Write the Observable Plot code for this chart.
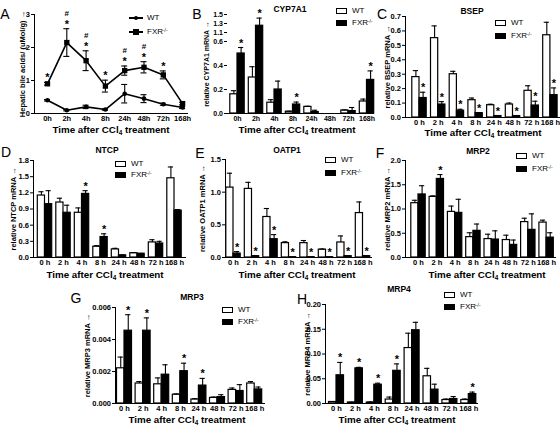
<!DOCTYPE html>
<html><head><meta charset="utf-8">
<script src="https://cdn.jsdelivr.net/npm/d3@7"></script>
<script src="https://cdn.jsdelivr.net/npm/@observablehq/plot@0.6"></script>
<style>
body{margin:0;background:#fff;}
#fig{position:relative;width:560px;height:426px;overflow:hidden;font-family:"Liberation Sans",Arial,sans-serif;color:#000;}
#fig svg{position:absolute;left:0;top:0;}
.t{position:absolute;white-space:nowrap;line-height:1;transform:translate(-50%,-50%);}
.l{position:absolute;white-space:nowrap;line-height:1;transform:translate(0,-50%);font-size:8px;}
.sw{position:absolute;box-sizing:border-box;border:1.3px solid #000;}
sub{font-size:65%;vertical-align:-0.25em;line-height:0;}
sup{font-size:60%;vertical-align:0.5em;line-height:0;}
</style></head><body><div id="fig"></div><script>
// ---------- data ----------
const timesA = ["0h","2h","4h","8h","24h","48h","72h","168h"];
const timesC = ["0 h","2 h","4 h","8 h","24 h","48 h","72 h","168 h"];

// A: hepatic bile acids
const bileWT     = [0.40,0.10,0.20,0.12,0.60,0.45,0.28,0.18];
const bileWTErr  = [0.02,0.02,0.05,0.02,0.28,0.12,0.03,0.03];
const bileFXR    = [0.90,2.15,1.60,0.83,1.30,1.40,1.17,0.30];
const bileFXRErr = [0.04,0.42,0.30,0.18,0.14,0.17,0.12,0.04];
const bileStar   = ["*","*","*","*","*","*","*",""];
const bileHash   = ["","#","#","","#","#","",""];

// B: CYP7A1
const cypWT     = [0.16,0.30,0.09,0.015,0.055,0,0.025,0.10];
const cypWTErr  = [0.03,0.09,0.025,0.004,0.005,0,0.005,0.02];
const cypFXR    = [0.50,1.25,0.20,0.075,0.012,0,0.02,0.28];
const cypFXRErr = [0.05,0.17,0.07,0.02,0.015,0,0.03,0.075];
const cypSig    = ["*","*","","*","","","","*"];

// C: BSEP
const bsepWT     = [0.28,0.55,0.30,0.12,0.085,0.09,0.185,0.57];
const bsepWTErr  = [0.045,0.085,0.02,0.015,0.007,0.01,0.035,0.09];
const bsepFXR    = [0.135,0.09,0.047,0.03,0.01,0.01,0.083,0.155];
const bsepFXRErr = [0.04,0.02,0.01,0.004,0.002,0.002,0.03,0.05];
const bsepSig    = ["*","*","*","*","*","*","*","*"];

// D: NTCP
const ntcpWT     = [1.15,1.02,0.83,0.20,0.15,0.08,0.28,1.47];
const ntcpWTErr  = [0.07,0.08,0.09,0.02,0.02,0.01,0.05,0.21];
const ntcpFXR    = [0.99,0.83,1.18,0.38,0.04,0.07,0.26,0.87];
const ntcpFXRErr = [0.25,0.14,0.06,0.06,0.005,0.005,0.04,0.02];
const ntcpSig    = ["","","*","*","","","",""];

// E: OATP1
const oatpWT     = [1.07,1.05,0.62,0.22,0.22,0.12,0.23,0.68];
const oatpWTErr  = [0.22,0.10,0.13,0.02,0.04,0.01,0.10,0.17];
const oatpFXR    = [0.06,0.02,0.28,0.005,0.005,0.005,0.02,0.02];
const oatpFXRErr = [0.03,0.01,0.07,0,0,0,0.005,0.01];
const oatpSig    = ["*","*","*","*","*","*","*","*"];

// F: MRP2
const mrp2WT     = [1.12,1.25,0.94,0.42,0.38,0.36,0.73,0.72];
const mrp2WTErr  = [0.06,0.02,0.12,0.09,0.10,0.10,0.08,0.05];
const mrp2FXR    = [1.30,1.62,0.92,0.55,0.37,0.26,0.57,0.41];
const mrp2FXRErr = [0.18,0.09,0.28,0.14,0.18,0.10,0.33,0.10];
const mrp2Sig    = ["","*","","","","","",""];

// G: MRP3
const mrp3WT     = [0.0022,0.00125,0.0012,0.00055,0.00025,0.00035,0.00085,0.00125];
const mrp3WTErr  = [0.0007,0.00012,0.0004,0.00005,0.00005,0.00005,0.00012,0.00012];
const mrp3FXR    = [0.00455,0.00455,0.0018,0.00202,0.00112,0.0004,0.00078,0.00088];
const mrp3FXRErr = [0.001,0.0008,0.00062,0.0005,0.00045,0.00015,0.0004,0.00015];
const mrp3Sig    = ["*","*","","*","*","","",""];

// H: MRP4
const mrp4WT     = [0.003,0.002,0.002,0.008,0.112,0.055,0.007,0.007];
const mrp4WTErr  = [0.001,0.0005,0.001,0.005,0.030,0.016,0.002,0.002];
const mrp4FXR    = [0.057,0.071,0.038,0.066,0.148,0.028,0.009,0.019];
const mrp4FXRErr = [0.026,0.002,0.003,0.014,0.016,0.011,0.005,0.004];
const mrp4Sig    = ["*","*","*","*","","","","*"];

// ---------- layout ----------
const W = 560, H = 426;
const FONT = "'Liberation Sans', Arial, sans-serif";
const fig = document.getElementById("fig");
const baseStyle = {background: "transparent", fontFamily: FONT, fontSize: "7.5px", fontWeight: "bold", color: "#000", overflow: "visible"};

function addSvg(svg){ fig.appendChild(svg); }

function barPanel(c) {
  const rows = c.times.map((t,i)=>({t, wt:c.wt[i], we:c.wtErr[i], fx:c.fxr[i], fe:c.fxrErr[i], sig:c.sig[i]}));
  const s = c.s, bw = c.bw, cap = 2.6;
  const yOpts = {type:"linear", domain:c.yDomain, ticks:c.yTicks, tickFormat:c.yFmt, line: !c.segs, tickSize:3, tickPadding:1.5,
                 label:c.yLabel, labelAnchor:"center", labelOffset:c.lo};
  if (c.yRange) yOpts.range = c.yRange;
  const marks = [
    Plot.barY(rows, {x:"t", y:"wt", fill:"white", stroke:"black", strokeWidth:1.2, insetLeft:s/2-bw, insetRight:s/2}),
    Plot.barY(rows, {x:"t", y:"fx", fill:"black", stroke:"black", strokeWidth:1.2, insetLeft:s/2, insetRight:s/2-bw}),
    Plot.ruleX(rows.filter(d=>d.we>0), {x:"t", y1:"wt", y2:d=>d.wt+d.we, dx:-bw/2, strokeWidth:1.1}),
    Plot.tickY(rows.filter(d=>d.we>0), {x:"t", y:d=>d.wt+d.we, insetLeft:s/2-bw/2-cap, insetRight:s/2+bw/2-cap, strokeWidth:1.1}),
    Plot.ruleX(rows.filter(d=>d.fe>0), {x:"t", y1:"fx", y2:d=>d.fx+d.fe, dx:bw/2, strokeWidth:1.1}),
    Plot.tickY(rows.filter(d=>d.fe>0), {x:"t", y:d=>d.fx+d.fe, insetLeft:s/2+bw/2-cap, insetRight:s/2-bw/2-cap, strokeWidth:1.1}),
    Plot.text(rows.filter(d=>d.sig), {x:"t", y:d=>d.fx+d.fe, text:"sig", dx:bw/2, dy:-1, lineAnchor:"bottom", fontSize:11}),
    Plot.ruleY([0], {strokeWidth:1.1})
  ];
  if (c.segs) marks.push(Plot.ruleX(c.segs, {y1:"a", y2:"b", dx:(c.L-c.R)/2, strokeWidth:1.1}));
  addSvg(Plot.plot({
    width:W, height:H,
    marginLeft:c.L, marginRight:W-c.R, marginTop:c.T, marginBottom:H-c.B,
    style: c.fontSize ? {...baseStyle, fontSize:c.fontSize} : baseStyle,
    x:{type:"band", domain:c.times, range:[c.c0-s/2, c.c0+7.5*s], padding:0, round:false, tickSize:0, tickPadding:2.5, label:null},
    y: yOpts,
    marks
  }));
}

// ---------- Panel A ----------
(function(){
  const L=34, R=188, T=14, B=113, c0=47, s=19.3;
  const wt = timesA.map((t,i)=>({t, v:bileWT[i], e:bileWTErr[i]}));
  const fx = timesA.map((t,i)=>({t, v:bileFXR[i], e:bileFXRErr[i], st:bileStar[i], h:bileHash[i]}));
  const cap = 3;
  const err = (data) => [
    Plot.ruleX(data, {x:"t", y1:d=>d.v-d.e, y2:d=>d.v+d.e, strokeWidth:1.1}),
    Plot.tickY(data, {x:"t", y:d=>d.v+d.e, insetLeft:s/2-cap, insetRight:s/2-cap, strokeWidth:1.1}),
    Plot.tickY(data, {x:"t", y:d=>d.v-d.e, insetLeft:s/2-cap, insetRight:s/2-cap, strokeWidth:1.1})
  ];
  addSvg(Plot.plot({
    width:W, height:H,
    marginLeft:L, marginRight:W-R, marginTop:T, marginBottom:H-B,
    style: baseStyle,
    x:{type:"band", domain:timesA, range:[c0-s/2, c0+7.5*s], padding:0, round:false, tickSize:0, tickPadding:2.5, label:null},
    y:{domain:[0,3], ticks:[0,1,2,3], tickFormat:d3.format("d"), line:true, tickSize:3, tickPadding:1.5,
       label:"Hepatic bile acids/ (uMol/g)", labelAnchor:"center", labelOffset:15},
    marks:[
      ...err(wt), ...err(fx),
      Plot.line(wt, {x:"t", y:"v", stroke:"black", strokeWidth:1.6}),
      Plot.line(fx, {x:"t", y:"v", stroke:"black", strokeWidth:1.6}),
      Plot.dot(wt, {x:"t", y:"v", r:2.3, fill:"black"}),
      Plot.dot(fx, {x:"t", y:"v", r:3, symbol:"square", fill:"black"}),
      Plot.text(fx.filter(d=>d.st), {x:"t", y:d=>d.v+d.e, text:"st", dy:-1, lineAnchor:"bottom", fontSize:11}),
      Plot.text(fx.filter(d=>d.h), {x:"t", y:d=>d.v+d.e, text:"h", dy:-12.5, lineAnchor:"bottom", fontSize:8}),
      Plot.ruleY([0], {strokeWidth:1.1})
    ]
  }));
})();

// ---------- Bar panels ----------
const f1 = d3.format(".1f"), f2 = d3.format(".2f"), f3 = d3.format(".3f");
barPanel({times:timesA, wt:cypWT, wtErr:cypWTErr, fxr:cypFXR, fxrErr:cypFXRErr, sig:cypSig,
  L:227, R:374, T:14, B:113, c0:237, s:18.5, bw:7.2, fontSize:"7px",
  yDomain:[0,0.6,1.1,1.5], yRange:[113,41,32,14], yTicks:[0,0.2,0.4,0.6,1.1,1.3,1.5], yFmt:f1,
  segs:[{a:0,b:0.6},{a:1.1,b:1.5}], yLabel:"relative CYP7A1 mRNA", lo:23});
barPanel({times:timesC, wt:bsepWT, wtErr:bsepWTErr, fxr:bsepFXR, fxrErr:bsepFXRErr, sig:bsepSig,
  L:405, R:560, T:16, B:117, c0:419, s:18.7, bw:7.2,
  yDomain:[0,0.7], yTicks:d3.range(0,0.71,0.1), yFmt:f1, yLabel:"relative BSEP mRNA", lo:21});
barPanel({times:timesC, wt:ntcpWT, wtErr:ntcpWTErr, fxr:ntcpFXR, fxrErr:ntcpFXRErr, sig:ntcpSig,
  L:33, R:186, T:160, B:257, c0:44.5, s:18.5, bw:7.2,
  yDomain:[0,1.8], yTicks:[0,0.3,0.6,0.9,1.2,1.5,1.8], yFmt:f1, yLabel:"relative NTCP mRNA", lo:23});
barPanel({times:timesC, wt:oatpWT, wtErr:oatpWTErr, fxr:oatpFXR, fxrErr:oatpFXRErr, sig:oatpSig,
  L:225, R:372, T:159, B:257, c0:233, s:18.5, bw:7.2,
  yDomain:[0,1.5], yTicks:[0,0.5,1,1.5], yFmt:f1, yLabel:"relative OATP1 mRNA", lo:26});
barPanel({times:timesC, wt:mrp2WT, wtErr:mrp2WTErr, fxr:mrp2FXR, fxrErr:mrp2FXRErr, sig:mrp2Sig,
  L:405, R:556, T:160, B:257, c0:418, s:18.3, bw:7.2,
  yDomain:[0,2], yTicks:[0,0.5,1,1.5,2], yFmt:f1, yLabel:"relative MRP2 mRNA", lo:21});
barPanel({times:timesC, wt:mrp3WT, wtErr:mrp3WTErr, fxr:mrp3FXR, fxrErr:mrp3FXRErr, sig:mrp3Sig,
  L:115, R:265, T:307, B:403, c0:124, s:18.6, bw:7.5,
  yDomain:[0,0.006], yTicks:[0,0.002,0.004,0.006], yFmt:f3, yLabel:"relative MRP3 mRNA", lo:31});
barPanel({times:timesC, wt:mrp4WT, wtErr:mrp4WTErr, fxr:mrp4FXR, fxrErr:mrp4FXRErr, sig:mrp4Sig,
  L:325, R:478, T:304, B:403, c0:336, s:18.9, bw:7.5,
  yDomain:[0,0.2], yTicks:[0,0.05,0.1,0.15,0.2], yFmt:f2, yLabel:"relative MRP4 mRNA", lo:21});

// ---------- text overlays ----------
function txt(x,y,html,css){ const d=document.createElement("div"); d.className="t"; d.style.left=x+"px"; d.style.top=y+"px"; d.innerHTML=html; Object.assign(d.style,css||{}); fig.appendChild(d); }
const letters = [["A",5,14],["B",197,14],["C",382,14],["D",6,152],["E",200,153],["F",380,153],["G",76,298],["H",302,299]];
letters.forEach(([s,x,y])=>txt(x,y,s,{fontSize:"14px"}));
const titles = [["CYP7A1",290,9],["BSEP",472,11],["NTCP",107,150],["OATP1",287,150],["MRP2",478,151],["MRP3",192,297],["MRP4",399,289]];
titles.forEach(([s,x,y])=>txt(x,y,s,{fontSize:"8.5px",fontWeight:"bold"}));
const xTitle = "Time after CCl<sub>4</sub> treatment";
[[111,130],[297,130],[483,133],[105,275],[297,275],[487,275],[187,420],[397,420]].forEach(([x,y])=>txt(x,y,xTitle,{fontSize:"9.8px",fontWeight:"bold"}));

// legends
function barLegend(x,y1,y2){
  [[y1,"#fff","WT"],[y2,"#000","FXR<sup>-/-</sup>"]].forEach(([y,bg,lab])=>{
    const sw=document.createElement("div"); sw.className="sw";
    Object.assign(sw.style,{left:x+"px",top:(y-3)+"px",width:"11px",height:"6px",background:bg}); fig.appendChild(sw);
    const t=document.createElement("div"); t.className="l"; t.style.left=(x+16)+"px"; t.style.top=y+"px"; t.innerHTML=lab; fig.appendChild(t);
  });
}
barLegend(336,11,23); barLegend(495,23,36); barLegend(115,164,175); barLegend(325,160,173);
barLegend(516,156,169); barLegend(222,310,322); barLegend(444,295,307);
// line legend for A
[[18,"50%",4.5],[32,"0",5.5]].forEach(([y,rad,sz],i)=>{
  const ln=document.createElement("div"); Object.assign(ln.style,{position:"absolute",left:"129px",top:(y-0.8)+"px",width:"14px",height:"1.6px",background:"#000"}); fig.appendChild(ln);
  const mk=document.createElement("div"); Object.assign(mk.style,{position:"absolute",left:(136-sz/2)+"px",top:(y-sz/2)+"px",width:sz+"px",height:sz+"px",background:"#000",borderRadius:rad}); fig.appendChild(mk);
  const t=document.createElement("div"); t.className="l"; t.style.left="147px"; t.style.top=y+"px"; t.innerHTML= i? "FXR<sup>-/-</sup>":"WT"; fig.appendChild(t);
});
</script></body></html>
